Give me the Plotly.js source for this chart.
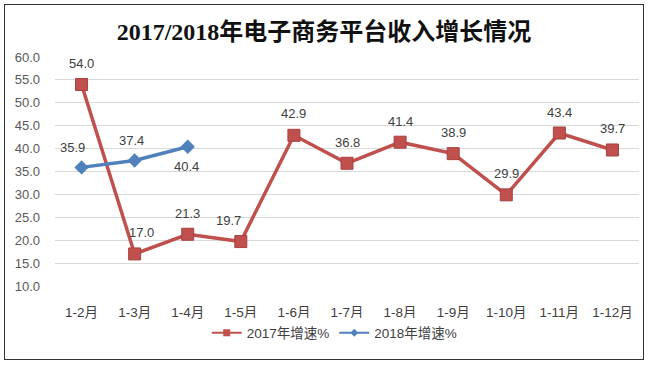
<!DOCTYPE html>
<html><head><meta charset="utf-8">
<script src="https://cdn.plot.ly/plotly-3.0.1.min.js"></script>
<style>
html,body{margin:0;padding:0;background:#fff;}
#wrap{position:relative;width:648px;height:368px;}
#chart{position:absolute;left:0;top:0;width:648px;height:368px;}
#frame{position:absolute;left:4px;top:4px;width:638px;height:354px;border:1.5px solid #333;pointer-events:none;}
</style></head>
<body><div id="wrap"><div id="chart"></div><div id="frame"></div></div>
<script>
const categories = ['1-2月','1-3月','1-4月','1-5月','1-6月','1-7月','1-8月','1-9月','1-10月','1-11月','1-12月'];
const growth2017 = [54.0, 17.0, 21.3, 19.7, 42.9, 36.8, 41.4, 38.9, 29.9, 43.4, 39.7];
const categories2018 = ['1-2月','1-3月','1-4月'];
const growth2018 = [35.9, 37.4, 40.4];
const yTicks = [10,15,20,25,30,35,40,45,50,55,60];

// label placement (pixel nudges) for the data labels
const shift2017 = [[0,21],[7,21],[0,21],[-12,21],[0,22],[0,21],[0,21],[0,21],[0,21],[0,21],[0,21]];
const shift2018 = [[-9,20],[-3,20],[-1,-20]];

const RED = '#C0504D', BLUE = '#4F81BD';
const labelFont = {family: 'Liberation Sans, Arial, sans-serif', size: 13, color: '#404040'};

const traces = [
  {x: categories, y: growth2017, name: '2017年增速%', type: 'scatter', mode: 'lines+markers', showlegend: false,
   line: {color: RED, width: 3.5},
   marker: {symbol: 'square', size: 12, color: RED, line: {color: '#A8403D', width: 1}}},
  {x: categories2018, y: growth2018, name: '2018年增速%', type: 'scatter', mode: 'lines+markers', showlegend: false,
   line: {color: BLUE, width: 3.5},
   marker: {symbol: 'diamond', size: 11, color: BLUE}},
  {x: [null], y: [null], name: '2017年增速%', type: 'scatter', mode: 'lines+markers', showlegend: true,
   line: {color: RED, width: 2}, marker: {symbol: 'square', size: 7, color: RED}},
  {x: [null], y: [null], name: '2018年增速%', type: 'scatter', mode: 'lines+markers', showlegend: true,
   line: {color: BLUE, width: 2}, marker: {symbol: 'diamond', size: 6, color: BLUE}}
];

const annotations = [];
categories.forEach((c, i) => annotations.push({x: c, y: growth2017[i], text: growth2017[i].toFixed(1), showarrow: false,
  xshift: shift2017[i][0], yshift: shift2017[i][1], font: labelFont}));
categories2018.forEach((c, i) => annotations.push({x: c, y: growth2018[i], text: growth2018[i].toFixed(1), showarrow: false,
  xshift: shift2018[i][0], yshift: shift2018[i][1], font: labelFont}));

const layout = {
  width: 648, height: 368,
  margin: {l: 55, r: 9, t: 57, b: 82},
  paper_bgcolor: '#fff', plot_bgcolor: '#fff',
  title: {text: '2017/2018年电子商务平台收入增长情况', x: 0.5, xref: 'container', xanchor: 'center', y: 1 - 32/368, yanchor: 'middle',
          font: {family: 'Liberation Serif, Noto Sans CJK SC, serif', size: 24, color: '#111', weight: 'bold'}},
  xaxis: {type: 'category', range: [-0.5, 10.5], showgrid: false, zeroline: false, showline: false, ticks: '',
          ticklabelstandoff: 16,
          tickfont: {family: 'Liberation Sans, Noto Sans CJK SC, sans-serif', size: 13.5, color: '#404040'}},
  yaxis: {range: [10, 60], tickvals: yTicks, ticktext: yTicks.map(v => v.toFixed(1)),
          showgrid: true, gridcolor: '#D9D9D9', gridwidth: 1, zeroline: false, showline: false, ticks: '',
          ticklabelstandoff: 14,
          tickfont: {family: 'Liberation Sans, Arial, sans-serif', size: 13, color: '#595959'}},
  annotations: annotations,
  showlegend: true,
  legend: {orientation: 'h', x: 0.479, xanchor: 'center', y: (286-333)/229, yanchor: 'middle',
           font: {family: 'Liberation Sans, Noto Sans CJK SC, sans-serif', size: 13.5, color: '#404040'},
           itemwidth: 30, tracegroupgap: 10}
};
Plotly.newPlot('chart', traces, layout, {displayModeBar: false, staticPlot: true});
</script></body></html>
